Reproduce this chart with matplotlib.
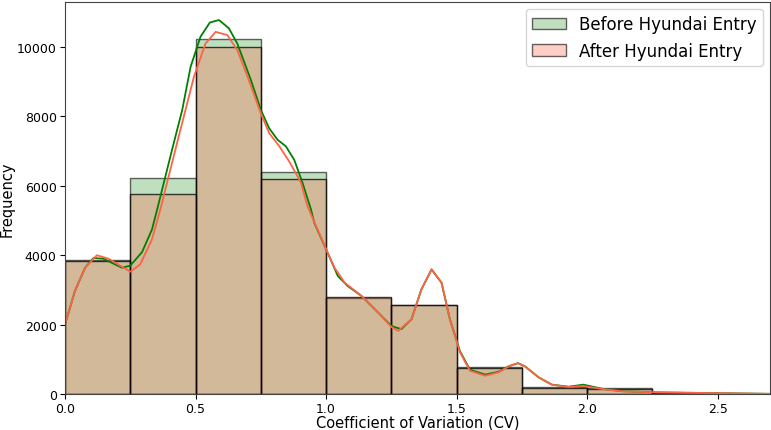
import matplotlib
matplotlib.use('Agg')
from matplotlib import pyplot as plt
from matplotlib.patches import Patch

# histogram bins (CV) and counts
bin_edges = [0.0, 0.25, 0.5, 0.75, 1.0, 1.25, 1.5, 1.75, 2.0, 2.25, 2.5, 2.75]
before_counts = [3850, 6230, 10240, 6400, 2760, 2580, 785, 205, 165, 30, 5]
after_counts = [3820, 5780, 9990, 6200, 2800, 2570, 740, 185, 150, 25, 5]

# kde curves
before_kde_x = [0.0, 0.038, 0.077, 0.109, 0.147, 0.218, 0.25, 0.295, 0.333, 0.353,
                0.41, 0.449, 0.481, 0.519, 0.555, 0.59, 0.628, 0.66, 0.712, 0.75,
                0.782, 0.814, 0.846, 0.878, 0.91, 0.942, 0.955, 1.006, 1.045, 1.083,
                1.135, 1.199, 1.25, 1.288, 1.327, 1.365, 1.404, 1.442, 1.474, 1.513,
                1.551, 1.609, 1.66, 1.699, 1.735, 1.763, 1.814, 1.865, 1.929, 1.985,
                2.058, 2.135, 2.263, 2.49, 2.7]
before_kde_y = [2000, 2970, 3640, 3920, 3900, 3640, 3700, 4090, 4740, 5320,
                7040, 8190, 9430, 10300, 10710, 10780, 10540, 10100, 9050, 8190,
                7660, 7330, 7140, 6750, 6080, 5320, 4930, 4070, 3400, 3110,
                2830, 2350, 1960, 1870, 2155, 3017, 3590, 3210, 2155, 1230,
                700, 560, 640, 800, 890, 790, 480, 270, 210, 270,
                150, 80, 48, 25, 5]
after_kde_x = [0.0, 0.038, 0.077, 0.122, 0.167, 0.25, 0.288, 0.333, 0.365, 0.429,
               0.494, 0.538, 0.577, 0.622, 0.66, 0.699, 0.75, 0.782, 0.821, 0.859,
               0.891, 0.904, 0.929, 1.006, 1.032, 1.071, 1.135, 1.199, 1.25, 1.276,
               1.327, 1.365, 1.404, 1.442, 1.474, 1.513, 1.551, 1.609, 1.66, 1.699,
               1.735, 1.763, 1.814, 1.865, 1.929, 1.985, 2.058, 2.135, 2.263, 2.49,
               2.7]
after_kde_y = [2010, 2970, 3640, 4000, 3900, 3525, 3735, 4454, 5316, 7230,
               9150, 10100, 10440, 10345, 9910, 9150, 8090, 7520, 7140, 6700,
               6270, 6080, 5410, 4071, 3640, 3210, 2830, 2350, 1930, 1820,
               2155, 3017, 3592, 3209, 2155, 1197, 670, 527, 623, 795,
               891, 785, 479, 268, 201, 230, 144, 77, 48, 25, 5]

fig = plt.figure(figsize=(7.71, 4.31), dpi=100)
ax: plt.Axes = fig.add_axes([0.0843, 0.0835, 0.9144, 0.9095])

widths = [bin_edges[i + 1] - bin_edges[i] for i in range(len(before_counts))]
ax.bar(bin_edges[:-1], before_counts, width=widths, align='edge',
       facecolor=(0, 0.5, 0, 0.25), edgecolor=(0, 0, 0, 0.6), linewidth=1)
ax.bar(bin_edges[:-1], after_counts, width=widths, align='edge',
       facecolor=(1, 0.39, 0.28, 0.3), edgecolor=(0, 0, 0, 0.75), linewidth=1)

ax.plot(before_kde_x, before_kde_y, color='green', linewidth=1.3)
ax.plot(after_kde_x, after_kde_y, color='tomato', linewidth=1.3)

ax.set_xlim(0, 2.7)
ax.set_ylim(0, 11300)
ax.set_xticks([0.0, 0.5, 1.0, 1.5, 2.0, 2.5])
ax.set_yticks([0, 2000, 4000, 6000, 8000, 10000])
ax.tick_params(labelsize=9, pad=2.5)
ax.set_xlabel('Coefficient of Variation (CV)', fontsize=10.5)
ax.set_ylabel('Frequency', fontsize=10.5)
ax.xaxis.set_label_coords(0.5, -0.052)
ax.yaxis.set_label_coords(-0.071, 0.5)
for s in ax.spines.values():
    s.set_color('#444444')

handles = [Patch(facecolor=(0, 0.5, 0, 0.25), edgecolor=(0, 0, 0, 0.6), label='Before Hyundai Entry'),
           Patch(facecolor=(1, 0.39, 0.28, 0.3), edgecolor=(0, 0, 0, 0.6), label='After Hyundai Entry')]
ax.legend(handles=handles, loc='upper right', fontsize=12, borderaxespad=0.4)

fig.savefig('out.png')
plt.close()
